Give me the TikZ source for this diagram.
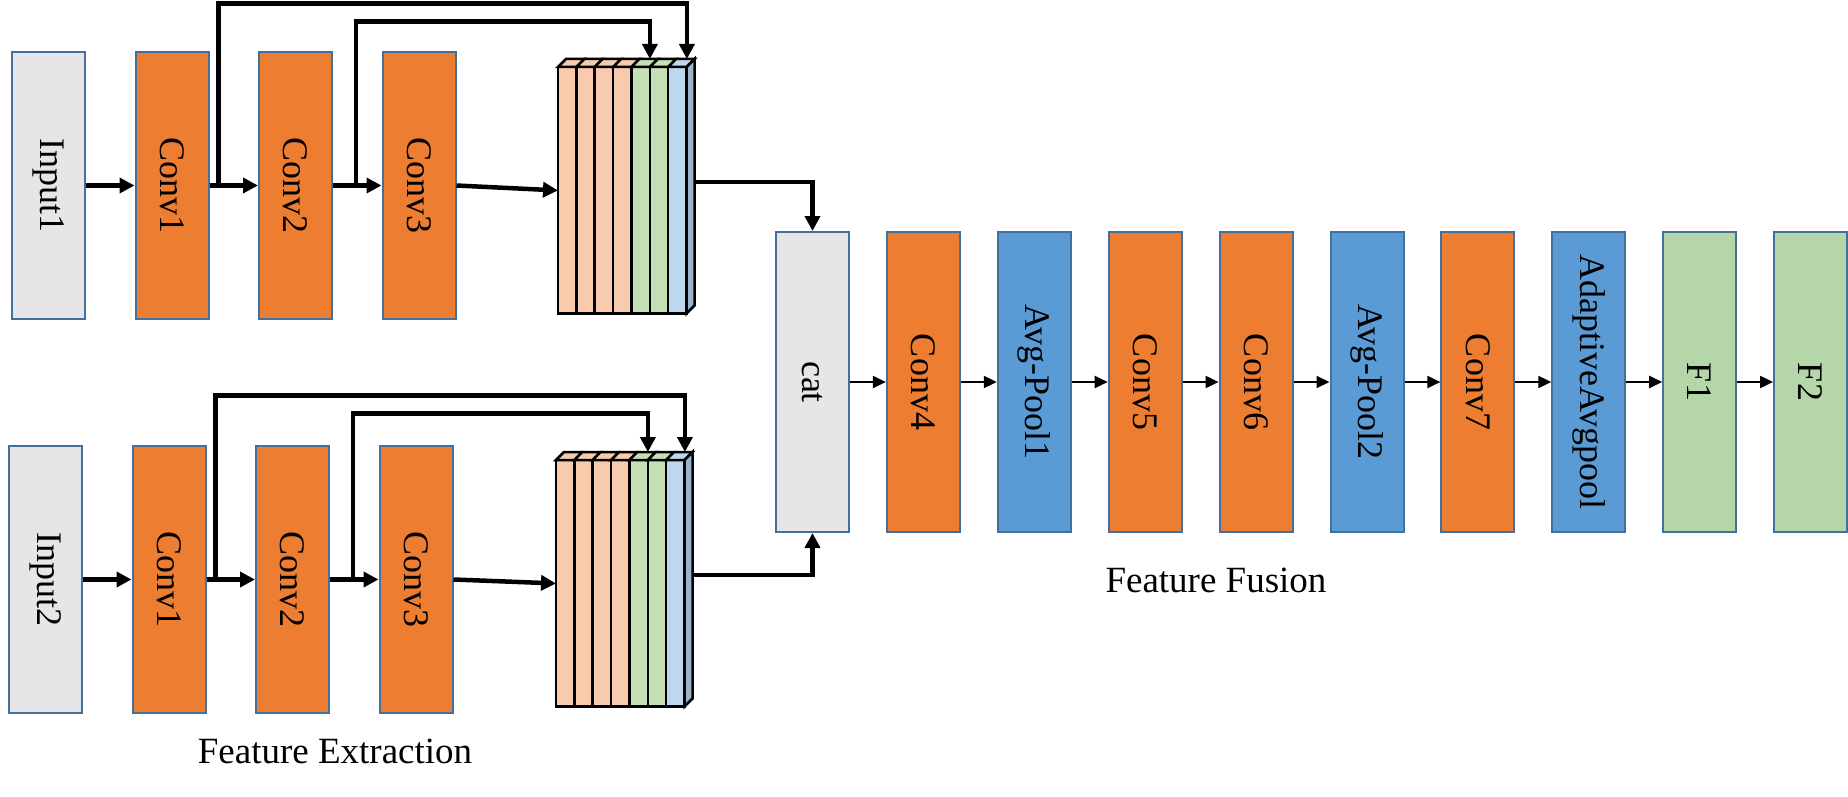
\documentclass[tikz,border=0pt]{standalone}
\usepackage{fontspec}
\setmainfont{Liberation Serif}
\usetikzlibrary{arrows.meta}
\definecolor{edgeb}{HTML}{41719C}
\definecolor{grayb}{HTML}{E7E6E6}
\definecolor{orng}{HTML}{ED7D31}
\definecolor{blu}{HTML}{5B9BD5}
\definecolor{grn}{HTML}{B5D6A8}
\definecolor{stko}{HTML}{F8CBAD}
\definecolor{stkg}{HTML}{C5E0B4}
\definecolor{stkb}{HTML}{BDD7EE}
\definecolor{stks}{HTML}{9DB3CA}
\tikzset{
	blk/.style={draw=edgeb, line width=2pt, minimum width=73pt, minimum height=267pt, inner sep=0pt},
	lbl/.style={rotate=-90, font=\fontsize{36}{40}\selectfont, inner sep=0pt},
	captxt/.style={font=\fontsize{37}{42}\selectfont, inner sep=0pt},
	sblk/.style={draw=black, line width=2.5pt},
	thk/.style={line width=4.5pt, -{Triangle[length=15pt,width=15pt]}},
	thn/.style={line width=2pt, -{Triangle[length=13pt,width=12pt]}}
}
\begin{document}
\begin{tikzpicture}[x=1pt, y=-1pt]
	\useasboundingbox (0,0) rectangle (1848,797);
	% feature extraction, two branches
	\foreach \r/\dx/\yc/\k in {a/0/185.5/1, b/-3/579.5/2}{
		\node[blk, fill=grayb, label={[lbl]center:Input\k}] (in\r) at (48.5+\dx,\yc) {};
		\foreach \j in {1,2,3}
			\node[blk, fill=orng, label={[lbl]center:Conv\j}] (c\j\r) at (48.5+\dx+\j*123.5,\yc) {};
	}
	% stacked feature maps
	\foreach \r/\sx/\sy in {a/558/67, b/556/460}{
		\node[minimum width=128.5pt, minimum height=246.5pt, inner sep=0pt, anchor=north west] (stk\r) at (\sx,\sy) {};
		\foreach \k/\c in {0/stko,1/stko,2/stko,3/stko,4/stkg,5/stkg,6/stkb}{
			\filldraw[fill=\c, sblk] (\sx+\k*18.36,\sy) rectangle ++(18.36,246.5);
			\filldraw[fill=\c, sblk] (\sx+\k*18.36,\sy) -- ++(8,-8) -- ++(18.36,0) -- ++(-8,8) -- cycle;
		}
		\filldraw[fill=stks, sblk] (\sx+128.5,\sy) -- ++(8,-8) -- ++(0,246.5) -- ++(-8,8) -- cycle;
	}
	\foreach \r in {a,b}{
		\draw[thk] (in\r) -- (c1\r);
		\draw[thk] (c1\r) -- (c2\r);
		\draw[thk] (c2\r) -- (c3\r);
		\draw[thk] (c3\r.east) -- (stk\r.west);
	}
	% skip connections
	\draw[thk] ([xshift=9pt]c1a.east) -- ++(0,-182) -| ([shift={(0,-8)}]stka.north east);
	\draw[thk] ([xshift=23pt]c2a.east) -- ++(0,-164) -| ([shift={(-37,-8)}]stka.north east);
	\draw[thk] ([xshift=9pt]c1b.east) -- ++(0,-184) -| ([shift={(0,-8)}]stkb.north east);
	\draw[thk] ([xshift=23pt]c2b.east) -- ++(0,-166) -| ([shift={(-37,-8)}]stkb.north east);
	% feature fusion
	\foreach \n/\t/\c [count=\i from 0] in {cat/cat/grayb, c4/Conv4/orng, p1/Avg-Pool1/blu, c5/Conv5/orng, c6/Conv6/orng, p2/Avg-Pool2/blu, c7/Conv7/orng, ap/AdaptiveAvgpool/blu, f1/F1/grn, f2/F2/grn}
		\node[blk, minimum height=300pt, fill=\c, label={[lbl]center:\t}] (\n) at (812.5+\i*110.9,382) {};
	\draw[thk] ([shift={(8,115)}]stka.north east) -| (cat.north);
	\draw[thk] ([shift={(8,115)}]stkb.north east) -| (cat.south);
	\foreach \a/\b in {cat/c4, c4/p1, p1/c5, c5/c6, c6/p2, p2/c7, c7/ap, ap/f1, f1/f2}
		\draw[thn] (\a) -- (\b);
	\node[captxt, anchor=base] (fe) at (335,763) {Feature Extraction};
	\node[captxt, anchor=base] (ff) at (1216,592) {Feature Fusion};
\end{tikzpicture}
\end{document}
